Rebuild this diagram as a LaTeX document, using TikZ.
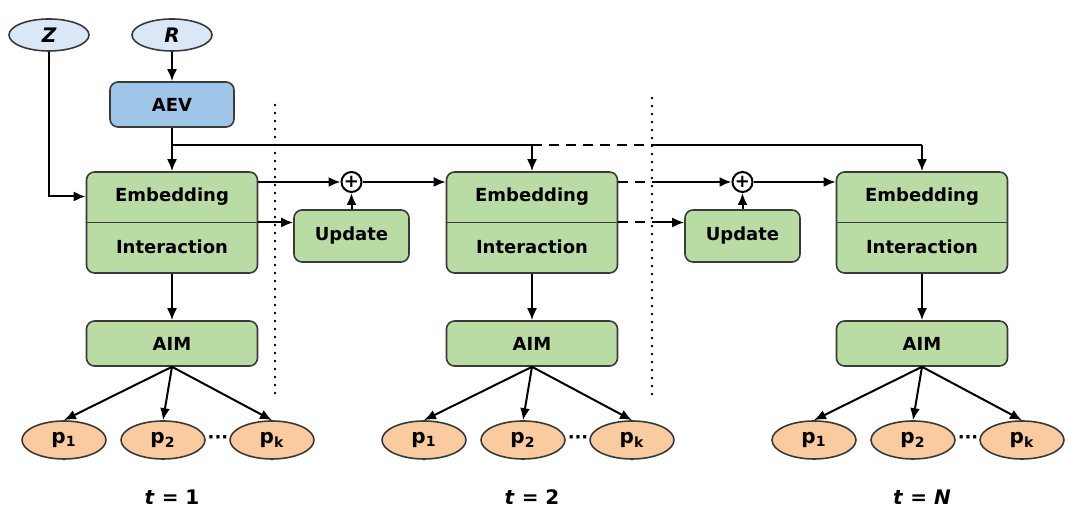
\documentclass[tikz,border=0pt]{standalone}
\usepackage{fontspec}
\setmainfont{DejaVu Sans}
\usetikzlibrary{arrows.meta,shapes.geometric,calc}

\definecolor{gfill}{HTML}{B9DCA5}
\definecolor{bfill}{HTML}{9FC5E8}
\definecolor{lfill}{HTML}{D9E7F7}
\definecolor{ofill}{HTML}{F9CB9E}
\definecolor{edge}{HTML}{3A3A3A}

\begin{document}
\begin{tikzpicture}[x=0.5pt,y=0.5pt,>={Latex[length=6pt,width=5pt]},
                    line width=1pt,
                    every node/.style={font=\fontsize{9}{11}\selectfont\bfseries},
                    gbox/.style={rectangle,rounded corners=4pt,draw=edge,fill=gfill,line width=0.8pt,
                                 minimum width=85.5pt,minimum height=22.5pt,inner sep=0pt},
                    ubox/.style={gbox,minimum width=57.5pt,minimum height=26pt},
                    inp/.style={ellipse,draw=edge,fill=lfill,minimum width=40pt,line width=0.8pt,
                                minimum height=16pt,inner sep=0pt,font=\fontsize{10}{12}\selectfont\bfseries\itshape},
                    pnode/.style={ellipse,draw=edge,fill=ofill,minimum width=42pt,line width=0.8pt,
                                  minimum height=19pt,inner sep=0pt,font=\fontsize{10}{12}\selectfont\bfseries},
                    sum/.style={circle,draw,fill=white,minimum size=10pt,inner sep=0pt},
                    divider/.style={line width=1.4pt,line cap=round,dash pattern=on 0pt off 4pt},
                    dashed/.style={dash pattern=on 5pt off 3.5pt}]
  \useasboundingbox (0,0) rectangle (1065,512);

  % inputs
  \node[inp] (z) at (49,477) {Z};
  \node[inp] (r) at (172,477) {R};
  \node[rectangle,rounded corners=4pt,draw=edge,fill=bfill,minimum width=62pt,line width=0.8pt,
        minimum height=22.5pt] (aev) at (172,407.5) {AEV};

  % time steps
  \foreach \i/\x/\t in {1/172/1, 2/532/2, 3/922/\textit{N}} {
    \node[gbox,minimum height=50.5pt] (blk\i) at (\x,289.5) {};
    \draw[edge,line width=0.8pt] (blk\i.west) -- (blk\i.east);
    \node (emb\i) at (\x,315) {Embedding};
    \node (int\i) at (\x,265) {Interaction};
    \node[gbox] (aim\i) at (\x,168.5) {AIM};
    \node[pnode] (pa\i) at (\x-108,72) {p\textsubscript{1}};
    \node[pnode] (pb\i) at (\x-9,72) {p\textsubscript{2}};
    \node[pnode] (pk\i) at (\x+100,72) {p\textsubscript{k}};
    \node (dots\i) at (\x+46,72) {···};
    \node[font=\fontsize{10}{12}\selectfont\bfseries] (t\i) at (\x,15) {\textit{t} = \t};
    \draw[->] (blk\i) -- (aim\i);
    \draw[->] (aim\i.south) -- (pa\i.north);
    \draw[->] (aim\i.south) -- (pb\i.north);
    \draw[->] (aim\i.south) -- (pk\i.north);
  }

  % updates
  \node[ubox] (upd1) at (351.5,276) {Update};
  \node[ubox] (upd2) at (742.5,276) {Update};
  \node[sum] (plus1) at (351.5,330) {+};
  \node[sum] (plus2) at (742.5,330) {+};

  % dividers
  \coordinate (div1) at (275,407);
  \coordinate (div2) at (652,414);
  \coordinate (bus) at (172,367);
  \draw[divider] (div1) -- (275,117);
  \draw[divider] (div2) -- (652,117);

  % connectors
  \draw[->] (r) -- (aev);
  \draw[->] (z) |- ($(blk1.west)+(0,26)$);
  \draw[->] (aev) -- (blk1);
  \draw (bus) -- (blk2.north |- bus);
  \draw[->] (blk2.north |- bus) -- (blk2.north);
  \draw[dashed] (blk2.north |- bus) -- (div2 |- bus);
  \draw (div2 |- bus) -- (blk3.north |- bus);
  \draw[->] (blk3.north |- bus) -- (blk3.north);

  \draw[->] (blk1.east |- plus1) -- (plus1);
  \draw[->] (plus1) -- (blk2.west |- plus1);
  \draw[->] (blk1.east) -- (blk1.east -| upd1.west);
  \draw[->] (upd1) -- (plus1);

  \draw[dashed] (blk2.east |- plus2) -- (div2 |- plus2);
  \draw[->] (div2 |- plus2) -- (plus2);
  \draw[dashed] (blk2.east) -- (blk2.east -| div2);
  \draw[->] (blk2.east -| div2) -- (blk2.east -| upd2.west);
  \draw[->] (plus2) -- (blk3.west |- plus2);
  \draw[->] (upd2) -- (plus2);
\end{tikzpicture}
\end{document}
